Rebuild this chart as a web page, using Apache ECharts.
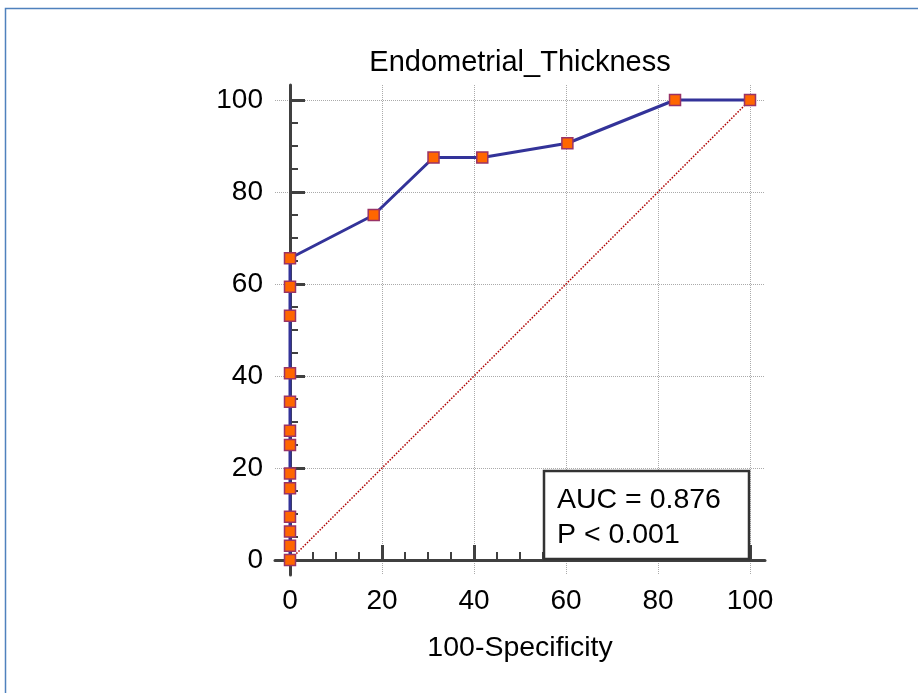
<!DOCTYPE html>
<html>
<head>
<meta charset="utf-8">
<script src="https://cdn.jsdelivr.net/npm/echarts@6/dist/echarts.min.js"></script>
<style>
html,body{margin:0;padding:0;background:#fff;}
#chart{width:918px;height:693px;}
</style>
</head>
<body>
<div id="chart"></div>
<script>
// ---- data ----
const chartTitle = 'Endometrial_Thickness';
const xAxisTitle = '100-Specificity';
const rocX = [0, 0, 0, 0, 0, 0, 0, 0, 0, 0, 0, 0, 0, 18.2, 31.2, 41.8, 60.3, 83.7, 100];
const rocY = [0, 3.1, 6.2, 9.4, 15.6, 18.8, 25.0, 28.1, 34.4, 40.6, 53.1, 59.4, 65.6, 75.0, 87.5, 87.5, 90.6, 100, 100];
const diagX = [0, 100];
const diagY = [0, 100];
const majorTicks = [0, 20, 40, 60, 80, 100];
const minorTicks = [5, 10, 15, 25, 30, 35, 45, 50, 55, 65, 70, 75, 85, 90, 95];
const aucText = 'AUC = 0.876';
const pText = 'P < 0.001';

const FONT = '"Liberation Sans", Arial, sans-serif';
const axisMin = -3.26, axisMax = 103.26;

function majorAxis(extra) {
  return Object.assign({
    type: 'value', min: axisMin, max: axisMax,
    axisLine: {show: true, lineStyle: {color: '#404040', width: 3}},
    axisTick: {show: true, inside: true, length: 15, customValues: majorTicks,
               lineStyle: {color: '#404040', width: 3}},
    axisLabel: {customValues: majorTicks, color: '#000', fontSize: 28, fontFamily: FONT, margin: 12},
    splitLine: {show: true, lineStyle: {color: '#aaaaaa', type: 'dotted', width: 1}}
  }, extra);
}
function minorAxis(extra) {
  return Object.assign({
    type: 'value', min: axisMin, max: axisMax,
    axisLine: {show: false},
    axisTick: {show: true, inside: true, length: 8, customValues: minorTicks,
               lineStyle: {color: '#404040', width: 2}},
    axisLabel: {show: false},
    splitLine: {show: false}
  }, extra);
}

const chart = echarts.init(document.getElementById('chart'), null, {renderer: 'canvas'});
chart.setOption({
  animation: false,
  backgroundColor: '#fff',
  grid: {left: 275, right: 153, top: 85, bottom: 118, containLabel: false},
  xAxis: [
    majorAxis({position: 'bottom', name: xAxisTitle, nameLocation: 'middle', nameGap: 59,
      nameTextStyle: {color: '#000', fontSize: 28.5, fontFamily: FONT}}),
    minorAxis({position: 'bottom'})
  ],
  yAxis: [
    majorAxis({position: 'left'}),
    minorAxis({position: 'left'})
  ],
  graphic: [
    {type: 'rect', z: -10, shape: {x: 5.5, y: 8.5, width: 1000, height: 1000},
     style: {fill: 'none', stroke: '#4f81bd', lineWidth: 1.5}},
    {type: 'text', x: 520, y: 63, z: 10,
     style: {text: chartTitle, fill: '#000', font: '29px ' + FONT, textAlign: 'center', textVerticalAlign: 'middle'}},
    {type: 'rect', z: 20, shape: {x: 544, y: 471, width: 205, height: 88},
     style: {fill: '#fff', stroke: '#333', lineWidth: 2.5}},
    {type: 'text', x: 557, y: 500, z: 21,
     style: {text: aucText, fill: '#000', font: '28.5px ' + FONT, textAlign: 'left', textVerticalAlign: 'middle'}},
    {type: 'text', x: 557, y: 535, z: 21,
     style: {text: pText, fill: '#000', font: '28.5px ' + FONT, textAlign: 'left', textVerticalAlign: 'middle'}}
  ],
  series: [
    {type: 'line', data: diagX.map((x, i) => [x, diagY[i]]), symbol: 'none', z: 2,
     lineStyle: {color: '#b00000', width: 1.5, type: 'dotted'}},
    {type: 'line', data: rocX.map((x, i) => [x, rocY[i]]), z: 5,
     symbol: 'rect', symbolSize: 11, showAllSymbol: true,
     itemStyle: {color: '#ff6600', borderColor: '#993366', borderWidth: 1.5},
     lineStyle: {color: '#333399', width: 3}}
  ]
});
</script>
</body>
</html>
